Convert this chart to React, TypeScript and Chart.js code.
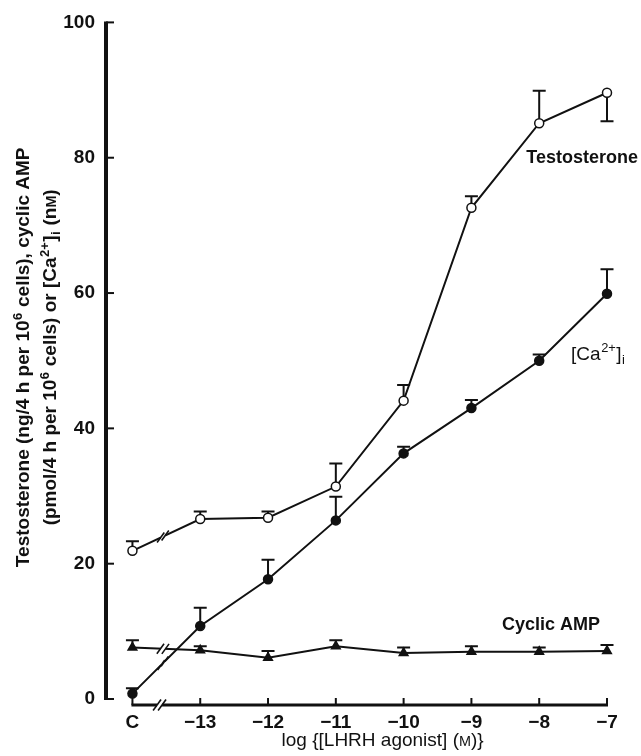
import React, { useEffect, useRef } from 'react';
import { Chart, registerables } from 'chart.js';

Chart.register(...registerables);

// ---- data ----
const categories = ['C', '−13', '−12', '−11', '−10', '−9', '−8', '−7'];
const xPositions = [-14, -13, -12, -11, -10, -9, -8, -7];
const testosterone = [21.9, 26.6, 26.8, 31.4, 44.1, 72.6, 85.1, 89.6];
const testosteroneErr = [1.4, 1.1, 0.9, 3.4, 2.3, 1.7, 4.8, -4.2];
const calcium = [0.8, 10.8, 17.7, 26.4, 36.3, 43.0, 50.0, 59.9];
const calciumErr = [0.8, 2.7, 2.9, 3.5, 1.0, 1.2, 0.9, 3.6];
const cyclicAMP = [7.6, 7.2, 6.1, 7.8, 6.8, 7.0, 7.0, 7.1];
const cyclicAMPErr = [1.1, 0.6, 1.0, 0.9, 0.8, 0.8, 0.6, 0.9];
const yTicks = [0, 20, 40, 60, 80, 100];
const breakX = -13.55;
const axisBreakX = -13.6;

type Seg = { t: string; k?: 'sup' | 'sub' | 'sc' };
const yTitleLines: Seg[][] = [
  [{ t: 'Testosterone (ng/4 h per 10' }, { t: '6', k: 'sup' }, { t: ' cells), cyclic AMP' }],
  [
    { t: '(pmol/4 h per 10' }, { t: '6', k: 'sup' }, { t: ' cells) or [Ca' }, { t: '2+', k: 'sup' },
    { t: ']' }, { t: 'i', k: 'sub' }, { t: ' (n' }, { t: 'M', k: 'sc' }, { t: ')' },
  ],
];
const xTitle: Seg[] = [{ t: 'log {[LHRH agonist] (' }, { t: 'M', k: 'sc' }, { t: ')}' }];
const caLabel: Seg[] = [{ t: '[Ca' }, { t: '2+', k: 'sup' }, { t: ']' }, { t: 'i', k: 'sub' }];

const FONT = "'Liberation Sans', Arial, 'DejaVu Sans', sans-serif";
const INK = '#111';

function segFont(k: Seg['k'], size: number, weight: string) {
  const s = k === 'sup' || k === 'sub' ? size * 0.68 : k === 'sc' ? size * 0.76 : size;
  return `${weight} ${s.toFixed(1)}px ${FONT}`;
}
function segShift(k: Seg['k'], size: number) {
  if (k === 'sup') return -size * 0.38;
  if (k === 'sub') return size * 0.22;
  return 0;
}
// draws rich text at (0,0) of current transform, baseline alphabetic
function drawRich(ctx: CanvasRenderingContext2D, segs: Seg[], size: number, weight: string, align: 'left' | 'center') {
  ctx.textBaseline = 'alphabetic';
  ctx.textAlign = 'left';
  let total = 0;
  const widths = segs.map((s) => {
    ctx.font = segFont(s.k, size, weight);
    const w = ctx.measureText(s.t).width + (s.k === 'sup' || s.k === 'sub' ? 1 : 0);
    total += w;
    return w;
  });
  let x = align === 'center' ? -total / 2 : 0;
  segs.forEach((s, i) => {
    ctx.font = segFont(s.k, size, weight);
    ctx.fillText(s.t, x + (s.k === 'sup' || s.k === 'sub' ? 0.5 : 0), segShift(s.k, size));
    x += widths[i];
  });
}

function drawBreak(ctx: CanvasRenderingContext2D, cx: number, cy: number, slope: number, gap: number, len: number, whiteW: number) {
  const ang = Math.atan(slope);
  const ux = Math.cos(ang), uy = Math.sin(ang);
  ctx.save();
  ctx.strokeStyle = '#fff';
  ctx.lineWidth = whiteW;
  ctx.lineCap = 'butt';
  ctx.beginPath();
  ctx.moveTo(cx - ux * gap / 2, cy - uy * gap / 2);
  ctx.lineTo(cx + ux * gap / 2, cy + uy * gap / 2);
  ctx.stroke();
  ctx.strokeStyle = INK;
  ctx.lineWidth = 1.6;
  for (const s of [-1, 1]) {
    const bx = cx + s * ux * gap / 2;
    const by = cy + s * uy * gap / 2;
    const dx = len * 0.36, dy = len * 0.5;
    ctx.beginPath();
    ctx.moveTo(bx - dx, by + dy);
    ctx.lineTo(bx + dx, by - dy);
    ctx.stroke();
  }
  ctx.restore();
}

const decorPlugin = {
  id: 'decor',
  beforeDatasetsDraw(chart: any) {
    const { ctx, scales } = chart;
    const x = scales.x, y = scales.y;
    ctx.save();
    ctx.strokeStyle = INK;
    ctx.lineWidth = 2;
    chart.data.datasets.forEach((ds: any) => {
      ds.data.forEach((p: any, j: number) => {
        const e = ds.errors[j];
        const px = x.getPixelForValue(p.x);
        const py = y.getPixelForValue(p.y);
        const pe = y.getPixelForValue(p.y + e);
        ctx.beginPath();
        ctx.moveTo(px, py);
        ctx.lineTo(px, pe);
        ctx.moveTo(px - 6.5, pe);
        ctx.lineTo(px + 6.5, pe);
        ctx.stroke();
      });
    });
    ctx.restore();
  },
  afterDatasetsDraw(chart: any) {
    const { ctx, scales, chartArea } = chart;
    const x = scales.x, y = scales.y;

    // line breaks
    chart.data.datasets.forEach((ds: any) => {
      const a = ds.data[0], b = ds.data[1];
      const ax = x.getPixelForValue(a.x), ay = y.getPixelForValue(a.y);
      const bx = x.getPixelForValue(b.x), by = y.getPixelForValue(b.y);
      const cx = x.getPixelForValue(breakX);
      const t = (cx - ax) / (bx - ax);
      const cy = ay + t * (by - ay);
      drawBreak(ctx, cx, cy, (by - ay) / (bx - ax), 5, 10, 5);
    });

    ctx.save();
    ctx.strokeStyle = INK;
    // y axis
    const yl = chartArea.left;
    ctx.lineWidth = 4;
    ctx.lineCap = 'butt';
    ctx.beginPath();
    ctx.moveTo(yl, y.getPixelForValue(0) + 1);
    ctx.lineTo(yl, y.getPixelForValue(100) - 1);
    ctx.stroke();
    ctx.lineWidth = 2;
    yTicks.forEach((v) => {
      const py = y.getPixelForValue(v);
      ctx.beginPath();
      ctx.moveTo(yl, py);
      ctx.lineTo(yl + 8, py);
      ctx.stroke();
    });
    // x axis
    const xb = chartArea.bottom;
    ctx.lineWidth = 3;
    ctx.beginPath();
    ctx.moveTo(x.getPixelForValue(-14) - 1, xb);
    ctx.lineTo(x.getPixelForValue(-7) + 1, xb);
    ctx.stroke();
    ctx.lineWidth = 2;
    xPositions.forEach((v) => {
      const px = x.getPixelForValue(v);
      ctx.beginPath();
      ctx.moveTo(px, xb);
      ctx.lineTo(px, xb - 7);
      ctx.stroke();
    });
    ctx.restore();
    drawBreak(ctx, x.getPixelForValue(axisBreakX), xb, 0, 5, 11, 6);

    // series labels
    ctx.save();
    ctx.fillStyle = INK;
    ctx.textBaseline = 'middle';
    ctx.textAlign = 'left';
    ctx.font = `bold 18px ${FONT}`;
    ctx.fillText('Testosterone', x.getPixelForValue(-8.19), y.getPixelForValue(79.9));
    ctx.fillText('Cyclic AMP', x.getPixelForValue(-8.55), y.getPixelForValue(10.9));

    ctx.save();
    ctx.translate(x.getPixelForValue(-7.53), y.getPixelForValue(51.2) + 7);
    drawRich(ctx, caLabel, 19, 'normal', 'left');
    ctx.restore();

    // x title
    ctx.save();
    ctx.translate(x.getPixelForValue(-10.31), xb + 41);
    drawRich(ctx, xTitle, 19, 'normal', 'center');
    ctx.restore();

    // y title
    const cy = y.getPixelForValue(50.5);
    const xs = [yl - 84 + 7, yl - 57 + 7];
    yTitleLines.forEach((line, i) => {
      ctx.save();
      ctx.translate(xs[i], cy);
      ctx.rotate(-Math.PI / 2);
      drawRich(ctx, line, 19, 'bold', 'center');
      ctx.restore();
    });
    ctx.restore();
  },
};

export default function App() {
  const ref = useRef<HTMLCanvasElement>(null);
  useEffect(() => {
    document.body.style.margin = '0';
    const canvas = ref.current!;
    const mk = (label: string, vals: number[], errs: number[], style: string, fill: string) => ({
      label,
      data: xPositions.map((xv, i) => ({ x: xv, y: vals[i] })),
      errors: errs,
      borderColor: INK,
      borderWidth: 2,
      tension: 0,
      fill: false,
      clip: false,
      pointStyle: style,
      pointRadius: style === 'triangle' ? 5 : 4.5,
      pointBackgroundColor: fill,
      pointBorderColor: INK,
      pointBorderWidth: 1.5,
    });
    const chart = new Chart(canvas, {
      type: 'line',
      data: {
        datasets: [
          mk('Testosterone', testosterone, testosteroneErr, 'circle', '#fff'),
          mk('[Ca2+]i', calcium, calciumErr, 'circle', INK),
          mk('Cyclic AMP', cyclicAMP, cyclicAMPErr, 'triangle', INK),
        ] as any,
      },
      options: {
        animation: false,
        responsive: false,
        layout: { padding: { left: 0, top: 21, right: 34, bottom: 0 } },
        plugins: { legend: { display: false }, tooltip: { enabled: false } },
        scales: {
          x: {
            type: 'linear',
            min: -14.39,
            max: -7,
            grid: { display: false, drawTicks: false },
            border: { display: false },
            afterBuildTicks: (s: any) => {
              s.ticks = xPositions.map((v) => ({ value: v }));
            },
            afterFit: (s: any) => {
              s.height = 51;
            },
            ticks: {
              autoSkip: false,
              maxRotation: 0,
              padding: 6,
              color: INK,
              font: { family: FONT, size: 19, weight: 'bold' },
              callback: (_v: any, i: number) => categories[i],
            },
          },
          y: {
            type: 'linear',
            min: -0.885,
            max: 100,
            grid: { display: false, drawTicks: false },
            border: { display: false },
            afterBuildTicks: (s: any) => {
              s.ticks = yTicks.map((v) => ({ value: v }));
            },
            afterFit: (s: any) => {
              s.width = 106;
            },
            ticks: {
              padding: 11,
              color: INK,
              font: { family: FONT, size: 19, weight: 'bold' },
              callback: (v: any) => String(v),
            },
          },
        },
      } as any,
      plugins: [decorPlugin],
    });
    return () => chart.destroy();
  }, []);
  return <canvas ref={ref} width={641} height={756} style={{ display: 'block' }} />;
}
